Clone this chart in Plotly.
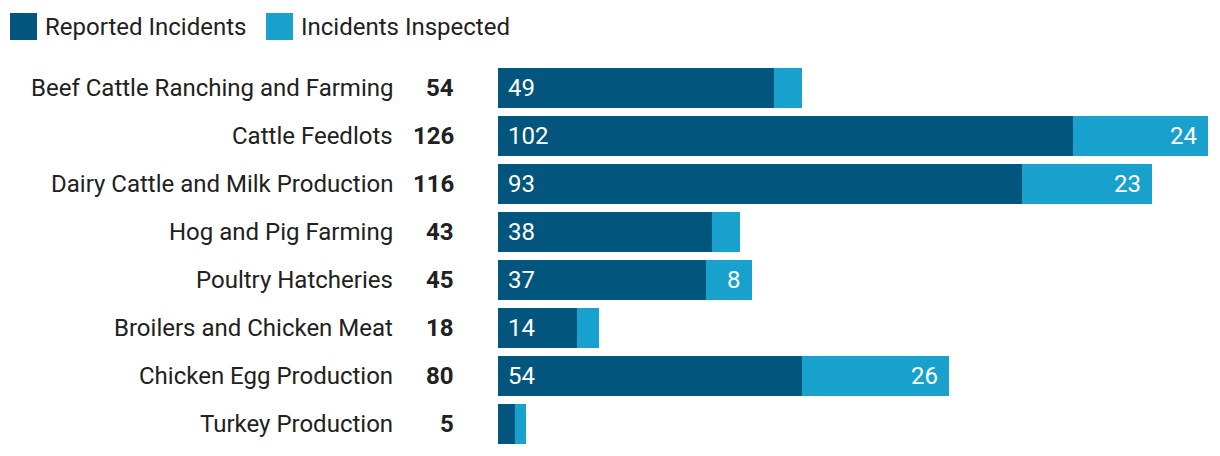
import plotly.graph_objects as go

categories = [
    "Beef Cattle Ranching and Farming",
    "Cattle Feedlots",
    "Dairy Cattle and Milk Production",
    "Hog and Pig Farming",
    "Poultry Hatcheries",
    "Broilers and Chicken Meat",
    "Chicken Egg Production",
    "Turkey Production",
]
reported = [49, 102, 93, 38, 37, 14, 54, 3]
inspected = [5, 24, 23, 5, 8, 4, 26, 2]
totals = [r + i for r, i in zip(reported, inspected)]

DARK = "#02557c"
LIGHT = "#18a1cd"
TEXT = "#212121"
FONT = "Roboto"
FS = 24

fig = go.Figure()
fig.add_bar(y=categories, x=reported, orientation="h", marker_color=DARK, marker_line_width=0,
            name="Reported Incidents", showlegend=False, hoverinfo="x+y")
fig.add_bar(y=categories, x=inspected, orientation="h", marker_color=LIGHT, marker_line_width=0,
            name="Incidents Inspected", showlegend=False, hoverinfo="x+y")

ann = []
for c, r, i, t in zip(categories, reported, inspected, totals):
    ann.append(dict(x=0, y=c, xref="paper", yref="y", text=c, showarrow=False,
                    xanchor="right", xshift=-103, font=dict(family=FONT, size=FS, color=TEXT)))
    ann.append(dict(x=0, y=c, xref="paper", yref="y", text=f"<b>{t}</b>", showarrow=False,
                    xanchor="right", xshift=-42, font=dict(family=FONT, size=FS, color=TEXT)))
    if r >= 6:
        ann.append(dict(x=0, y=c, xref="x", yref="y", text=str(r), showarrow=False,
                        xanchor="left", xshift=8, font=dict(family=FONT, size=FS, color="white")))
    if i >= 6:
        ann.append(dict(x=t, y=c, xref="x", yref="y", text=str(i), showarrow=False,
                        xanchor="right", xshift=-9, font=dict(family=FONT, size=FS, color="white")))

# legend
shapes = []
for xs, col, label in [(-488, DARK, "Reported Incidents"), (-232, LIGHT, "Incidents Inspected")]:
    shapes.append(dict(type="rect", xref="paper", yref="paper", xsizemode="pixel", ysizemode="pixel",
                       xanchor=0, yanchor=1, x0=xs, x1=xs + 27, y0=24, y1=51,
                       fillcolor=col, line_width=0))
    ann.append(dict(x=0, y=1, xref="paper", yref="paper", text=label, showarrow=False,
                    xanchor="left", yanchor="middle", xshift=xs + 33, yshift=37,
                    font=dict(family=FONT, size=FS, color=TEXT)))

fig.update_layout(
    barmode="stack",
    bargap=8 / 48,
    width=1220, height=456,
    margin=dict(l=490, r=20, t=56, b=16),
    plot_bgcolor="white", paper_bgcolor="white",
    xaxis=dict(range=[0, 126], visible=False, fixedrange=True),
    yaxis=dict(autorange="reversed", showticklabels=False, showgrid=False, zeroline=False,
               showline=False, ticks="", fixedrange=True),
    annotations=ann, shapes=shapes,
    font=dict(family=FONT, color=TEXT),
)
fig.write_html("out.html")
